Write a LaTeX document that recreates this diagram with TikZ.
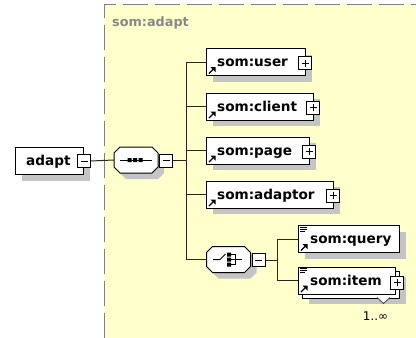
\documentclass[tikz,border=0pt]{standalone}
\usepackage{fontspec}
\setmainfont{DejaVu Sans}
\usetikzlibrary{shadows}
\definecolor{paper}{RGB}{255,255,204}
\definecolor{framegray}{RGB}{128,128,128}
\definecolor{shadegray}{RGB}{196,196,196}
\definecolor{wirecol}{RGB}{40,40,20}
\definecolor{titlegray}{RGB}{136,136,136}

\newcommand\boxfont{\fontsize{13.6pt}{16pt}\selectfont\bfseries}

% small reference arrow in the lower left corner of an element box
\newcommand\refarrow[1]{%
  \draw[line width=1.2pt] ([xshift=3pt,yshift=2.5pt]#1.south west) -- ([xshift=7pt,yshift=6.5pt]#1.south west);
  \fill ([xshift=9.5pt,yshift=9pt]#1.south west) -- ([xshift=4.5pt,yshift=9pt]#1.south west) -- ([xshift=9.5pt,yshift=4pt]#1.south west) -- cycle;}
% "simple content" lines in the upper left corner
\newcommand\contentlines[1]{%
  \draw[line width=0.8pt] ([xshift=2pt,yshift=-2pt]#1.north west) -- ([xshift=9pt,yshift=-2pt]#1.north west)
    ([xshift=2pt,yshift=-4pt]#1.north west) -- ([xshift=9pt,yshift=-4pt]#1.north west)
    ([xshift=2pt,yshift=-6pt]#1.north west) -- ([xshift=7pt,yshift=-6pt]#1.north west);}

\tikzset{
  elembox/.style={draw=black, line width=1pt, fill=white, inner sep=0pt, minimum height=27pt,
    anchor=north west, drop shadow={shadow xshift=6pt, shadow yshift=-6pt, fill=shadegray, opacity=1}},
  plainbox/.style={draw=black, line width=1pt, fill=white, inner sep=0pt, minimum height=27pt, anchor=north west},
  lbl/.style={anchor=west, inner sep=0pt, font=\boxfont, text height=10pt, text depth=3pt},
  toggle/.style={draw=black, line width=0.8pt, fill=white, minimum size=13pt, inner sep=0pt},
  plusbox/.style={toggle, path picture={\draw[line width=0.9pt]
      ([xshift=-3.5pt]path picture bounding box.center) -- ([xshift=3.5pt]path picture bounding box.center)
      ([yshift=-3.5pt]path picture bounding box.center) -- ([yshift=3.5pt]path picture bounding box.center);}},
  minusbox/.style={toggle, path picture={\draw[line width=0.9pt]
      ([xshift=-3.5pt]path picture bounding box.center) -- ([xshift=3.5pt]path picture bounding box.center);}},
  wire/.style={draw=wirecol, line width=1pt},
  anchorbox/.style={minimum width=44pt, minimum height=26pt, inner sep=0pt},
  octa/.pic={
    \fill[shadegray] (-10,-7) -- (22,-7) -- (28,-1) -- (28,13) -- (22,19) -- (-10,19) -- (-16,13) -- (-16,-1) -- cycle;
    \draw[black, line width=1pt, fill=white] (-16,-13) -- (16,-13) -- (22,-7) -- (22,7) -- (16,13) -- (-16,13) -- (-22,7) -- (-22,-7) -- cycle;
  },
}

\begin{document}
\begin{tikzpicture}[x=1pt,y=-1pt]
\useasboundingbox (0,0) rectangle (416,338);

% model group area
\fill[paper] (104,4) rectangle (416,338);
\draw[framegray, line width=1.5pt, dash pattern=on 25pt off 7pt] (104.5,338) -- (104.5,4.5) -- (416,4.5);
\node[anchor=west, inner sep=0pt, text=titlegray, font=\fontsize{12.8pt}{15pt}\selectfont\bfseries] (title) at (112,23) {som:adapt};

% root element
\node[elembox, minimum width=68pt] (adapt) at (15,147) {};
\node[lbl] (adaptT) at ([xshift=11pt,yshift=-0.5pt]adapt.west) {adapt};
\node[minusbox] (adaptM) at (adapt.east) {};

% sequence compositor
\node[anchorbox] (seq) at (136,160) {};
\pic at (seq.center) {octa};
\draw[line width=1pt] (120,160) -- (152,160);
\fill (127.5,158) rectangle (131.5,162) (133,158) rectangle (137,162) (138.5,158) rectangle (142.5,162);
\node[minusbox] (seqM) at (166,160.5) {};

% child elements
\node[elembox, minimum width=99pt] (user) at (206,48) {};
\node[lbl] (userT) at ([xshift=11pt,yshift=-1pt]user.west) {som:user};
\refarrow{user}
\node[plusbox] (userP) at ([xshift=-1pt,yshift=-1pt]user.east) {};

\node[elembox, minimum width=107pt] (client) at (206,92.5) {};
\node[lbl] (clientT) at ([xshift=11pt,yshift=-1pt]client.west) {som:client};
\refarrow{client}
\node[plusbox] (clientP) at ([xshift=-1pt,yshift=-1pt]client.east) {};

\node[elembox, minimum width=103pt] (page) at (206,136.5) {};
\node[lbl] (pageT) at ([xshift=11pt,yshift=-1pt]page.west) {som:page};
\refarrow{page}
\node[plusbox] (pageP) at ([xshift=-1pt,yshift=-1pt]page.east) {};

\node[elembox, minimum width=127pt] (adaptor) at (206,180.5) {};
\node[lbl] (adaptorT) at ([xshift=11pt,yshift=-1pt]adaptor.west) {som:adaptor};
\refarrow{adaptor}
\node[plusbox] (adaptorP) at ([xshift=-1pt,yshift=-1pt]adaptor.east) {};

% choice compositor
\node[anchorbox, minimum width=45pt, minimum height=27pt] (choice) at (228.5,259.5) {};
\pic at (choice.center) {octa};
\begin{scope}[shift={(228.5,259.5)}]
  \draw[line width=1pt] (-15.5,0) -- (-8.5,0) -- (-3,-5.5);
  \fill (-1.5,-7) rectangle (2.5,-3) (-1.5,-2) rectangle (2.5,2) (-1.5,3) rectangle (2.5,7);
  \draw[line width=1pt] (2.5,-5) -- (7,-5) -- (7,5) -- (2.5,5) (2.5,0) -- (13.5,0);
\end{scope}
\node[minusbox] (choiceM) at (258.5,260) {};

\node[elembox, minimum width=101pt] (query) at (298,225) {};
\node[lbl] (queryT) at ([xshift=12pt,yshift=-1pt]query.west) {som:query};
\refarrow{query}
\contentlines{query}

% repeated element: stacked boxes
\node[elembox, minimum width=97pt] (itemB) at (302,270.5) {};
\node[plainbox, minimum width=97pt] (item) at (298,266.5) {};
\node[lbl] (itemT) at ([xshift=12pt,yshift=-1pt]item.west) {som:item};
\refarrow{item}
\contentlines{item}
\node[plusbox] (itemP) at ([xshift=1pt,yshift=-2pt]item.east) {};
\draw[black!75, line width=0.8pt, fill=white] (377,297.5) -- (383.5,303.5) -- (390,297.5);
\node[inner sep=0pt, font=\fontsize{12pt}{14pt}\selectfont] (occurs) at (375.5,316) {1..∞};

% connectors
\coordinate (tr) at (186,0);
\coordinate (sub) at (277,0);
\draw[wire] (adaptM.east) -- (seq.west);
\draw[wire] (seqM.east) -- (seqM.east -| tr);
\draw[wire] (user.west) -- (user.west -| tr) -- (choice.west -| tr) -- (choice.west);
\draw[wire] (client.west) -- (client.west -| tr);
\draw[wire] (page.west) -- (page.west -| tr);
\draw[wire] (adaptor.west) -- (adaptor.west -| tr);
\draw[wire] (choiceM.east) -- (choiceM.east -| sub);
\draw[wire] (query.west) -- (query.west -| sub) -- (item.west -| sub) -- (item.west);
\end{tikzpicture}
\end{document}
